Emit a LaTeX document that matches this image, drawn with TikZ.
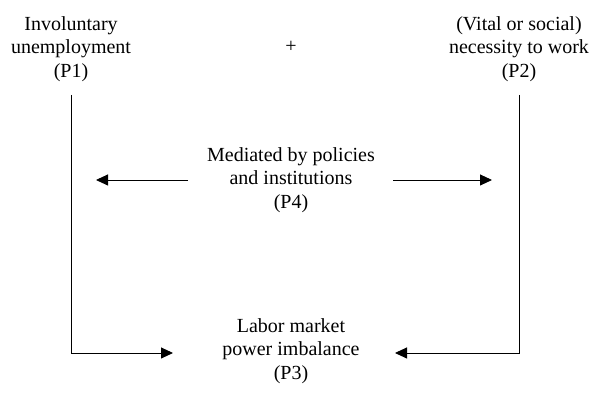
\documentclass[tikz,border=0pt]{standalone}
\usepackage{fontspec}
\setmainfont{Liberation Serif}
\usetikzlibrary{arrows.meta}
\begin{document}
\begin{tikzpicture}[x=1pt,y=1pt,
  lbl/.style={align=center,inner sep=0pt,font=\fontsize{20}{23.5}\selectfont},
  conn/.style={line width=0.9pt,-{Triangle[length=12pt,width=11pt]}}]
\useasboundingbox (0,0) rectangle (592,395);
\node[lbl] (p1) at (71,346) {Involuntary\\unemployment\\(P1)};
\node[lbl] (plus) at (291,348) {+};
\node[lbl] (p2) at (519,346) {(Vital or social)\\necessity to work\\(P2)};
\node[lbl] (p4) at (291,215) {Mediated by policies\\and institutions\\(P4)};
\node[lbl] (p3) at (291,44) {Labor market\\power imbalance\\(P3)};
\coordinate (s1) at (71,300);
\coordinate (s2) at (519,300);
\coordinate (t3l) at (173,42);
\coordinate (t3r) at (395,42);
\coordinate (a4l) at (188,215);
\coordinate (a4r) at (393,215);
\coordinate (t4l) at (96,215);
\coordinate (t4r) at (492,215);
\draw[conn] (s1) |- (t3l);
\draw[conn] (s2) |- (t3r);
\draw[conn] (a4l) -- (t4l);
\draw[conn] (a4r) -- (t4r);
\end{tikzpicture}
\end{document}
